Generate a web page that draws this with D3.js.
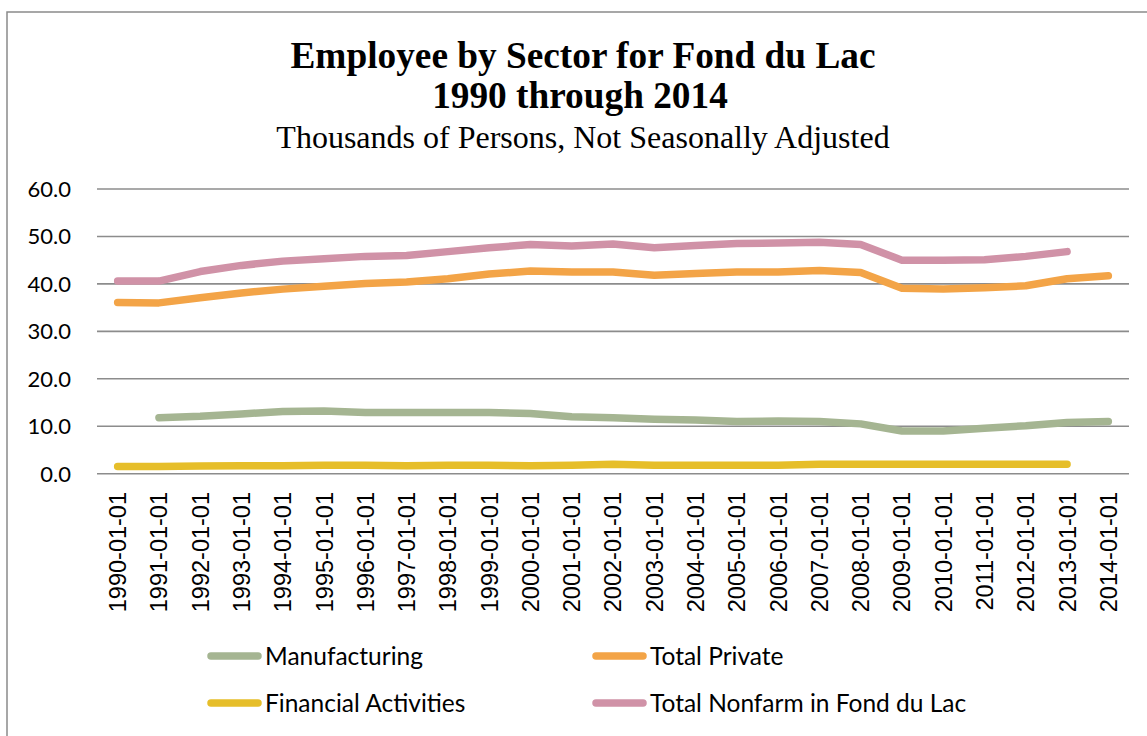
<!DOCTYPE html>
<html><head><meta charset="utf-8">
<script src="https://cdn.jsdelivr.net/npm/d3@7"></script>
<style>html,body{margin:0;padding:0;background:#fff;overflow:hidden}</style>
</head><body>
<svg id="chart" width="1147" height="736"></svg>
<script>
const years = ["1990-01-01","1991-01-01","1992-01-01","1993-01-01","1994-01-01","1995-01-01","1996-01-01","1997-01-01","1998-01-01","1999-01-01","2000-01-01","2001-01-01","2002-01-01","2003-01-01","2004-01-01","2005-01-01","2006-01-01","2007-01-01","2008-01-01","2009-01-01","2010-01-01","2011-01-01","2012-01-01","2013-01-01","2014-01-01"];
const manufacturing = [null,11.8,12.1,12.6,13.1,13.2,12.9,12.9,12.9,12.9,12.7,12.0,11.8,11.5,11.3,11.0,11.1,11.0,10.5,9.0,9.0,9.6,10.1,10.8,11.0];
const totalPrivate = [36.1,36.0,37.1,38.1,38.9,39.5,40.1,40.4,41.1,42.1,42.7,42.5,42.5,41.8,42.2,42.5,42.5,42.8,42.4,39.1,38.9,39.2,39.6,41.1,41.7];
const financial = [1.5,1.5,1.6,1.7,1.7,1.8,1.8,1.7,1.8,1.8,1.7,1.8,2.0,1.8,1.8,1.8,1.8,2.0,2.0,2.0,2.0,2.0,2.0,2.0,null];
const totalNonfarm = [40.6,40.6,42.6,43.9,44.8,45.3,45.8,46.0,46.8,47.6,48.3,48.0,48.4,47.6,48.1,48.5,48.6,48.8,48.3,45.0,45.0,45.1,45.8,46.8,null];
const yTicks = [0,10,20,30,40,50,60];
const seriesNames = ["Manufacturing","Total Private","Financial Activities","Total Nonfarm in Fond du Lac"];
const seriesColors = ["#A5B592","#F3A447","#E6BE2A","#D092A7"];
const titleLines = ["Employee by Sector for Fond du Lac","1990 through 2014"];
const subtitle = "Thousands of Persons, Not Seasonally Adjusted";

const svg = d3.select("#chart");
// frame
svg.append("rect").attr("x",7).attr("y",12).attr("width",1160).attr("height",740)
  .attr("fill","#fff").attr("stroke","#8a8a8a").attr("stroke-width",1.5);

const x = d3.scalePoint().domain(years).range([97,1129]).padding(0.5);
const y = d3.scaleLinear().domain([0,60]).range([473.7,189]);

// gridlines
svg.append("g").selectAll("line").data(yTicks).join("line")
  .attr("x1",97).attr("x2",1129).attr("y1",d=>y(d)).attr("y2",d=>y(d))
  .attr("stroke","#8c8c8c").attr("stroke-width",1.6);

// y labels
svg.append("g").selectAll("text").data(yTicks).join("text")
  .attr("x",71).attr("y",d=>y(d)).attr("dy","0.36em").attr("text-anchor","end")
  .attr("font-family","Lato, 'Open Sans', sans-serif").attr("font-size",22).attr("fill","#000")
  .text(d=>d3.format(".1f")(d));

// x labels
svg.append("g").selectAll("text").data(years).join("text")
  .attr("transform",d=>`translate(${x(d)},492) rotate(-90)`)
  .attr("dy","0.36em").attr("text-anchor","end")
  .attr("font-family","'Liberation Sans', Arial, sans-serif").attr("font-size",23.5).attr("fill","#000")
  .text(d=>d);

const allSeries = [manufacturing,totalPrivate,financial,totalNonfarm];
const line = d3.line().defined(d=>d.v!=null).x(d=>x(d.k)).y(d=>y(d.v));
[0,1,2,3].forEach(i=>{
  const data = years.map((k,j)=>({k,v:allSeries[i][j]}));
  svg.append("path").datum(data).attr("d",line).attr("fill","none")
    .attr("stroke",seriesColors[i]).attr("stroke-width",7.5)
    .attr("stroke-linecap","round").attr("stroke-linejoin","round");
});

// title
const tg = svg.append("g").attr("font-family","'Liberation Serif','Times New Roman',serif").attr("text-anchor","middle").attr("fill","#000");
tg.append("text").attr("x",583).attr("y",68).attr("font-size",37.3).attr("font-weight","bold").text(titleLines[0]);
tg.append("text").attr("x",580).attr("y",108).attr("font-size",37.3).attr("font-weight","bold").text(titleLines[1]);
tg.append("text").attr("x",583).attr("y",148).attr("font-size",32).text(subtitle);

// legend
const legPos = [[207,656],[592,656],[207,703],[592,703]];
const lg = svg.append("g");
seriesNames.forEach((n,i)=>{
  const [lx,ly] = legPos[i];
  lg.append("line").attr("x1",lx+4).attr("x2",lx+51).attr("y1",ly).attr("y2",ly)
    .attr("stroke",seriesColors[i]).attr("stroke-width",7.5).attr("stroke-linecap","round");
  lg.append("text").attr("x",lx+58).attr("y",ly+9).attr("font-family","Lato, sans-serif")
    .attr("font-size",24.5).attr("fill","#000").text(n);
});
</script>
</body></html>
